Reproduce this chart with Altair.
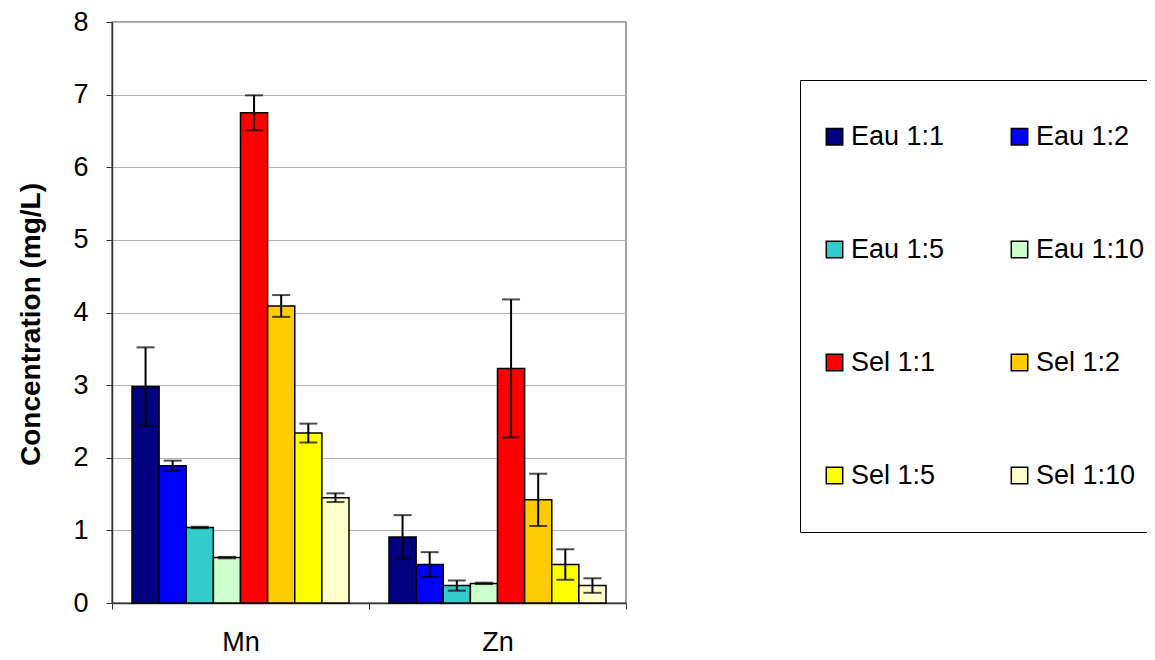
import altair as alt
import pandas as pd

elements = ["Mn", "Zn"]
series = ["Eau 1:1", "Eau 1:2", "Eau 1:5", "Eau 1:10",
          "Sel 1:1", "Sel 1:2", "Sel 1:5", "Sel 1:10"]
colors = ["#000080", "#0000FF", "#33CCCC", "#CCFFCC",
          "#FF0000", "#FFCC00", "#FFFF00", "#FFFFCC"]
y_ticks = [0, 1, 2, 3, 4, 5, 6, 7, 8]

mn_values = [2.98, 1.89, 1.04, 0.625, 6.75, 4.09, 2.34, 1.45]
mn_errors = [0.54, 0.07, 0.01, 0.01, 0.24, 0.15, 0.13, 0.06]
zn_values = [0.91, 0.53, 0.24, 0.27, 3.23, 1.42, 0.53, 0.24]
zn_errors = [0.30, 0.17, 0.07, 0.01, 0.95, 0.36, 0.21, 0.10]

rows = []
for el, vals, errs in [("Mn", mn_values, mn_errors), ("Zn", zn_values, zn_errors)]:
    for s, v, e in zip(series, vals, errs):
        rows.append({"element": el, "series": s, "value": v,
                     "lo": v - e, "hi": v + e})
df = pd.DataFrame(rows)

FONT = "Liberation Sans"
YTITLE = "Concentration (mg/L)"

x_enc = alt.X("element:N", sort=elements, title=None,
              scale=alt.Scale(paddingInner=0, paddingOuter=0),
              axis=alt.Axis(labelAngle=0, tickBand="extent", grid=False))
xo_enc = alt.XOffset("series:N", sort=series,
                     scale=alt.Scale(domain=series, paddingInner=0, paddingOuter=0.737))
y_scale = alt.Scale(domain=[0, 8], nice=False)
y_axis = alt.Axis(values=y_ticks, format="d", grid=True)

base = alt.Chart(df)

bars = base.mark_bar(stroke="black", strokeWidth=1.5).encode(
    x=x_enc,
    xOffset=xo_enc,
    y=alt.Y("value:Q", title=YTITLE, scale=y_scale, axis=y_axis),
    color=alt.Color("series:N", sort=series,
                    scale=alt.Scale(domain=series, range=colors),
                    legend=alt.Legend(title=None, orient="none", direction="horizontal",
                                      legendX=688, legendY=58,
                                      columns=2, columnPadding=63, rowPadding=85,
                                      symbolType="square", symbolSize=270,
                                      symbolStrokeColor="black", symbolStrokeWidth=1.5,
                                      labelFontSize=27, labelFont=FONT, labelColor="black",
                                      symbolOffset=-22, labelOffset=3,
                                      padding=43, strokeColor="black", fillColor="white")),
)

rules = base.mark_rule(color="black", strokeWidth=2).encode(
    x=x_enc,
    xOffset=xo_enc,
    y=alt.Y("lo:Q", title=YTITLE, scale=y_scale, axis=y_axis),
    y2="hi:Q",
)

caps_hi = base.mark_tick(color="black", thickness=2, size=18, orient="horizontal").encode(
    x=x_enc,
    xOffset=xo_enc,
    y=alt.Y("hi:Q", title=YTITLE, scale=y_scale, axis=y_axis),
)
caps_lo = base.mark_tick(color="black", thickness=2, size=18, orient="horizontal").encode(
    x=x_enc,
    xOffset=xo_enc,
    y=alt.Y("lo:Q", title=YTITLE, scale=y_scale, axis=y_axis),
)

chart = alt.layer(bars, rules, caps_hi, caps_lo).properties(
    width=514, height=581,
    autosize=alt.AutoSizeParams(type="none"),
    padding={"left": 104, "top": 14, "right": 521, "bottom": 55},
).configure_view(
    stroke="#808080", strokeWidth=1.5
).configure_axis(
    labelFontSize=27, labelFont=FONT, labelColor="black",
    titleFontSize=28, titleFont=FONT, titleColor="black", titleFontWeight="bold",
    tickSize=6, tickColor="#333", domainColor="#333", domainWidth=1.5,
    gridColor="#b4b4b4", gridWidth=1.2,
).configure_axisY(
    labelPadding=18, titlePadding=27, titleY=302,
).configure_axisX(
    labelPadding=20,
)

chart.save("out.html", embed_options={"renderer": "svg", "actions": False})
